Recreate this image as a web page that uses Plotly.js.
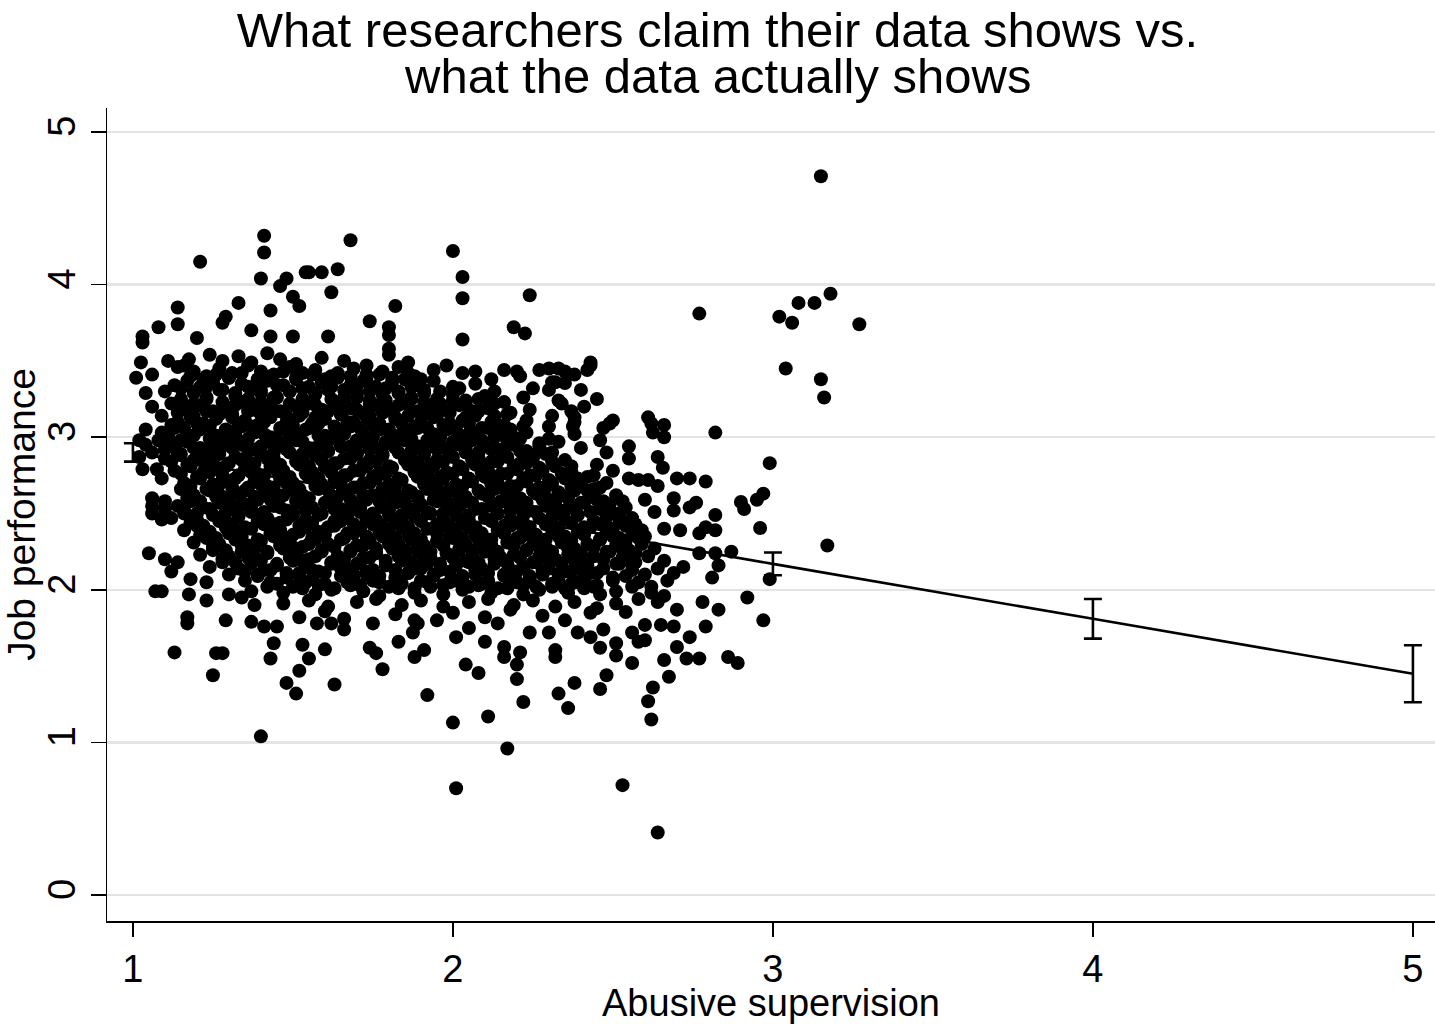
<!DOCTYPE html>
<html><head><meta charset="utf-8">
<script src="https://cdn.plot.ly/plotly-3.0.1.min.js"></script>
<style>html,body{margin:0;padding:0;background:#fff}#chart{width:1435px;height:1024px}</style>
</head><body><div id="chart"></div>
<script>
const titleLine1 = "What researchers claim their data shows vs.";
const titleLine2 = "what the data actually shows";
const xTitle = "Abusive supervision";
const yTitle = "Job performance";
const xTicks = [1, 2, 3, 4, 5];
const yTicks = [0, 1, 2, 3, 4, 5];

// fitted line and its confidence intervals
const fitX = [1, 2, 3, 4, 5];
const fitY = [2.90, 2.535, 2.17, 1.81, 1.45];
const fitCI = [0.06, 0.035, 0.075, 0.13, 0.187];

// observations [abusive supervision, job performance]
const coreUpper = [
[1.11,3.50],[1.16,3.47],[1.24,3.54],[1.28,3.50],[1.33,3.53],[1.37,3.49],[1.42,3.55],[1.46,3.51],[1.51,3.48],[1.59,3.52],[1.66,3.50],[1.73,3.47],[1.80,3.54],[1.86,3.49],[1.98,3.47],[2.07,3.43],[2.16,3.44],[2.30,3.45],[2.43,3.47],
[1.14,3.46],[1.19,3.43],[1.23,3.40],[1.27,3.45],[1.31,3.42],[1.36,3.47],[1.40,3.43],[1.44,3.41],[1.49,3.46],[1.53,3.42],[1.57,3.44],[1.62,3.40],[1.69,3.45],[1.73,3.41],[1.78,3.43],[1.83,3.46],[1.88,3.40],[1.94,3.44],[2.03,3.42],[2.12,3.38],[2.21,3.40],[2.31,3.36],[2.38,3.41],
[1.13,3.34],[1.17,3.37],[1.21,3.33],[1.25,3.36],[1.30,3.39],[1.34,3.35],[1.38,3.32],[1.42,3.37],[1.47,3.34],[1.51,3.38],[1.55,3.33],[1.59,3.36],[1.64,3.39],[1.68,3.34],[1.72,3.37],[1.76,3.33],[1.81,3.36],[1.85,3.38],[1.89,3.34],[1.94,3.37],[2.00,3.33],[2.07,3.35],[2.13,3.30],[2.25,3.32],[2.32,3.36],[2.40,3.31],
[1.10,3.30],[1.15,3.25],[1.19,3.29],[1.23,3.26],[1.27,3.31],[1.32,3.27],[1.36,3.24],[1.40,3.29],[1.44,3.26],[1.49,3.30],[1.53,3.25],[1.57,3.28],[1.61,3.31],[1.66,3.26],[1.70,3.29],[1.74,3.24],[1.78,3.28],[1.83,3.30],[1.87,3.26],[1.91,3.29],[1.95,3.25],[2.00,3.28],[2.04,3.24],[2.10,3.27],[2.16,3.23],[2.22,3.26],[2.34,3.22],[2.45,3.25],
[1.12,3.22],[1.17,3.18],[1.21,3.21],[1.25,3.17],[1.29,3.20],[1.34,3.23],[1.38,3.18],[1.42,3.21],[1.46,3.17],[1.51,3.20],[1.55,3.22],[1.59,3.18],[1.63,3.21],[1.68,3.19],[1.72,3.16],[1.76,3.21],[1.80,3.18],[1.85,3.22],[1.89,3.17],[1.93,3.20],[1.97,3.18],[2.02,3.21],[2.06,3.17],[2.11,3.19],[2.17,3.15],[2.24,3.18],[2.31,3.14],[2.37,3.17],
[1.09,3.14],[1.14,3.10],[1.18,3.13],[1.22,3.09],[1.26,3.12],[1.31,3.15],[1.35,3.11],[1.39,3.08],[1.43,3.13],[1.48,3.10],[1.52,3.14],[1.56,3.09],[1.60,3.12],[1.65,3.15],[1.69,3.10],[1.73,3.13],[1.77,3.09],[1.82,3.12],[1.86,3.14],[1.90,3.10],[1.94,3.13],[1.99,3.09],[2.03,3.11],[2.07,3.14],[2.12,3.10],[2.16,3.08],[2.23,3.11],[2.30,3.07],[2.38,3.10],[2.47,3.06]
];
const coreMiddle = [
[1.09,3.03],[1.13,3.06],[1.17,3.02],[1.21,3.05],[1.26,3.01],[1.30,3.04],[1.34,3.07],[1.38,3.03],[1.43,3.00],[1.47,3.05],[1.51,3.02],[1.55,3.06],[1.60,3.01],[1.64,3.04],[1.68,3.07],[1.72,3.02],[1.77,3.05],[1.81,3.01],[1.85,3.04],[1.89,3.06],[1.94,3.02],[1.98,3.05],[2.02,3.01],[2.06,3.03],[2.11,3.06],[2.15,3.02],[2.19,3.00],[2.23,3.03],[2.30,2.99],[2.38,3.02],
[1.04,2.95],[1.08,2.98],[1.12,2.94],[1.17,2.97],[1.21,2.93],[1.25,2.96],[1.29,2.99],[1.34,2.95],[1.38,2.92],[1.42,2.97],[1.46,2.94],[1.51,2.98],[1.55,2.93],[1.59,2.96],[1.63,2.99],[1.68,2.94],[1.72,2.97],[1.76,2.93],[1.80,2.96],[1.85,2.98],[1.89,2.94],[1.93,2.97],[1.97,2.93],[2.02,2.95],[2.06,2.98],[2.10,2.94],[2.14,2.92],[2.19,2.95],[2.23,2.91],[2.27,2.94],[2.33,2.97],[2.40,2.93],[2.48,2.90],[2.55,2.94],
[1.02,2.87],[1.06,2.90],[1.10,2.86],[1.15,2.89],[1.19,2.85],[1.23,2.88],[1.27,2.91],[1.32,2.87],[1.36,2.84],[1.40,2.89],[1.44,2.86],[1.49,2.90],[1.53,2.85],[1.57,2.88],[1.61,2.91],[1.66,2.86],[1.70,2.89],[1.74,2.85],[1.78,2.88],[1.83,2.90],[1.87,2.86],[1.91,2.89],[1.95,2.85],[2.00,2.87],[2.04,2.90],[2.08,2.86],[2.12,2.84],[2.17,2.87],[2.21,2.83],[2.25,2.86],[2.29,2.89],[2.35,2.85],[2.45,2.82],[2.55,2.86],
[1.13,2.78],[1.18,2.81],[1.22,2.77],[1.26,2.80],[1.30,2.83],[1.35,2.79],[1.39,2.76],[1.43,2.81],[1.47,2.78],[1.52,2.82],[1.56,2.77],[1.60,2.80],[1.64,2.83],[1.69,2.78],[1.73,2.81],[1.77,2.77],[1.81,2.80],[1.86,2.82],[1.90,2.78],[1.94,2.81],[1.98,2.77],[2.03,2.79],[2.07,2.82],[2.11,2.78],[2.15,2.76],[2.20,2.79],[2.24,2.75],[2.28,2.78],[2.32,2.81],[2.37,2.77],[2.42,2.74],[2.50,2.78],[2.58,2.72],
[1.16,2.70],[1.21,2.73],[1.25,2.69],[1.29,2.72],[1.33,2.75],[1.38,2.71],[1.42,2.68],[1.46,2.73],[1.50,2.70],[1.55,2.74],[1.59,2.69],[1.63,2.72],[1.67,2.75],[1.72,2.70],[1.76,2.73],[1.80,2.69],[1.84,2.72],[1.89,2.74],[1.93,2.70],[1.97,2.73],[2.01,2.69],[2.06,2.71],[2.10,2.74],[2.14,2.70],[2.18,2.68],[2.23,2.71],[2.27,2.67],[2.31,2.70],[2.35,2.73],[2.40,2.69],[2.44,2.66],[2.48,2.70],[2.55,2.73],[2.64,2.68],
[1.15,2.66],[1.19,2.62],[1.24,2.65],[1.28,2.61],[1.32,2.64],[1.36,2.67],[1.41,2.63],[1.45,2.60],[1.49,2.65],[1.53,2.62],[1.58,2.66],[1.62,2.61],[1.66,2.64],[1.70,2.67],[1.75,2.62],[1.79,2.65],[1.83,2.61],[1.87,2.64],[1.92,2.66],[1.96,2.62],[2.00,2.65],[2.04,2.61],[2.09,2.63],[2.13,2.66],[2.17,2.62],[2.21,2.60],[2.26,2.63],[2.30,2.59],[2.34,2.62],[2.38,2.65],[2.43,2.61],[2.47,2.58],[2.51,2.62],[2.60,2.59],[2.76,2.57]
];
const coreLower = [
[1.06,2.55],[1.10,2.53],[1.14,2.55],[1.18,2.58],[1.22,2.54],[1.27,2.57],[1.31,2.53],[1.35,2.56],[1.39,2.59],[1.44,2.55],[1.48,2.52],[1.52,2.57],[1.56,2.54],[1.61,2.58],[1.65,2.53],[1.69,2.56],[1.73,2.59],[1.78,2.54],[1.82,2.57],[1.86,2.53],[1.90,2.56],[1.95,2.58],[1.99,2.54],[2.03,2.57],[2.07,2.53],[2.12,2.55],[2.16,2.58],[2.20,2.54],[2.24,2.52],[2.29,2.55],[2.33,2.51],[2.37,2.54],[2.41,2.57],[2.46,2.53],[2.50,2.50],[2.54,2.54],[2.63,2.51],[2.82,2.49],
[1.06,2.50],[1.09,2.46],[1.12,2.47],[1.16,2.50],[1.20,2.46],[1.25,2.49],[1.29,2.45],[1.33,2.48],[1.37,2.51],[1.42,2.47],[1.46,2.44],[1.50,2.49],[1.54,2.46],[1.59,2.50],[1.63,2.45],[1.67,2.48],[1.71,2.51],[1.76,2.46],[1.80,2.49],[1.84,2.45],[1.88,2.48],[1.93,2.50],[1.97,2.46],[2.01,2.49],[2.05,2.45],[2.10,2.47],[2.14,2.50],[2.18,2.46],[2.22,2.44],[2.27,2.47],[2.31,2.43],[2.35,2.46],[2.39,2.49],[2.44,2.45],[2.48,2.42],[2.52,2.46],[2.57,2.43],[2.66,2.40],
[1.16,2.39],[1.20,2.42],[1.24,2.38],[1.29,2.41],[1.33,2.37],[1.37,2.40],[1.41,2.43],[1.46,2.39],[1.50,2.36],[1.54,2.41],[1.58,2.38],[1.63,2.42],[1.67,2.37],[1.71,2.40],[1.75,2.43],[1.80,2.38],[1.84,2.41],[1.88,2.37],[1.92,2.40],[1.97,2.42],[2.01,2.38],[2.05,2.41],[2.09,2.37],[2.14,2.39],[2.18,2.42],[2.22,2.38],[2.26,2.36],[2.31,2.39],[2.35,2.35],[2.39,2.38],[2.43,2.41],[2.48,2.37],[2.52,2.34],[2.56,2.38],[2.60,2.35],
[1.19,2.31],[1.23,2.34],[1.27,2.30],[1.32,2.33],[1.36,2.29],[1.40,2.32],[1.44,2.35],[1.49,2.31],[1.53,2.28],[1.57,2.33],[1.61,2.30],[1.66,2.34],[1.70,2.29],[1.74,2.32],[1.78,2.35],[1.83,2.30],[1.87,2.33],[1.91,2.29],[1.95,2.32],[2.00,2.34],[2.04,2.30],[2.08,2.33],[2.12,2.29],[2.17,2.31],[2.21,2.34],[2.25,2.30],[2.29,2.28],[2.34,2.31],[2.38,2.27],[2.42,2.30],[2.46,2.33],[2.51,2.29],[2.55,2.26],[2.59,2.30],[2.63,2.27],
[1.21,2.23],[1.25,2.26],[1.30,2.22],[1.34,2.25],[1.38,2.21],[1.42,2.24],[1.47,2.27],[1.51,2.23],[1.55,2.20],[1.59,2.25],[1.64,2.22],[1.68,2.26],[1.72,2.21],[1.76,2.24],[1.81,2.27],[1.85,2.22],[1.89,2.25],[1.93,2.21],[1.98,2.24],[2.02,2.26],[2.06,2.22],[2.10,2.25],[2.15,2.21],[2.19,2.23],[2.23,2.26],[2.27,2.22],[2.32,2.20],[2.36,2.23],[2.40,2.19],[2.44,2.22],[2.49,2.25],[2.53,2.21],[2.57,2.18],[2.61,2.22],[2.66,2.19],[2.77,2.24],
[1.24,2.15],[1.28,2.18],[1.33,2.14],[1.37,2.17],[1.41,2.13],[1.45,2.16],[1.50,2.19],[1.54,2.15],[1.58,2.12],[1.62,2.17],[1.67,2.14],[1.71,2.18],[1.75,2.13],[1.79,2.16],[1.84,2.19],[1.88,2.14],[1.92,2.17],[1.96,2.13],[2.01,2.16],[2.05,2.18],[2.09,2.14],[2.13,2.17],[2.18,2.13],[2.22,2.15],[2.26,2.18],[2.30,2.14],[2.35,2.12],[2.39,2.15],[2.43,2.11],[2.47,2.14],[2.52,2.17],[2.56,2.13],[2.60,2.10],[2.64,2.14],[2.69,2.11],
[1.18,2.07],[1.23,2.05],[1.30,2.10],[1.35,2.06],[1.39,2.09],[1.43,2.05],[1.48,2.08],[1.52,2.11],[1.56,2.07],[1.60,2.04],[1.65,2.09],[1.69,2.06],[1.73,2.10],[1.77,2.05],[1.82,2.08],[1.86,2.11],[1.90,2.06],[1.94,2.09],[1.99,2.05],[2.03,2.08],[2.07,2.10],[2.11,2.06],[2.16,2.09],[2.20,2.05],[2.24,2.07],[2.28,2.10],[2.33,2.06],[2.37,2.04],[2.41,2.07],[2.45,2.03],[2.50,2.06],[2.54,2.09],[2.58,2.05],[2.62,2.02],[2.67,2.06],
[1.37,1.99],[1.42,2.02],[1.47,1.98],[1.53,2.01],[1.57,1.97],[1.62,2.00],[1.68,2.03],[1.72,1.99],[1.77,1.96],[1.83,2.01],[1.88,1.98],[1.93,2.02],[1.97,1.97],[2.03,2.00],[2.08,2.03],[2.12,1.98],[2.17,2.01],[2.22,1.97],[2.27,2.00],[2.31,2.02],[2.36,1.98],[2.41,2.01],[2.46,1.97],[2.51,1.99],[2.56,2.02],[2.62,1.98],[2.66,1.96],
[1.47,1.91],[1.55,1.93],[1.61,1.89],[1.70,1.92],[1.76,1.94],[1.84,1.90],[1.90,1.93],[1.97,1.89],[2.05,1.92],[2.11,1.94],[2.19,1.90],[2.25,1.93],[2.32,1.89],[2.38,1.92],[2.45,1.88],[2.51,1.91],[2.58,1.94],
[1.52,1.82],[1.60,1.86],[1.66,1.81],[1.82,1.84],[1.88,1.80],[2.00,1.85],[2.10,1.82],[2.18,1.87],[2.28,1.83],[2.35,1.80],[2.43,1.85],
[1.05,2.24],[1.10,2.20],[1.14,2.18],[1.12,2.12],[1.07,1.99],[1.09,1.99],[1.175,1.97],[1.23,1.93],[1.17,1.82],[1.02,2.98],[1.03,2.79],[1.075,2.79],[1.09,2.73],[1.06,2.60],[1.10,2.58],[1.04,3.05],[1.06,3.20],[1.34,1.95],[1.38,1.90],[1.30,1.97]
];
const coreFill = [
[1.18,3.40],[1.22,3.38],[1.26,3.41],[1.30,3.39],[1.34,3.42],[1.39,3.38],[1.43,3.40],[1.47,3.43],[1.51,3.39],[1.56,3.41],[1.60,3.38],[1.64,3.42],[1.68,3.40],[1.73,3.37],[1.77,3.41],[1.81,3.39],[1.86,3.42],[1.90,3.38],
[1.15,3.32],[1.19,3.30],[1.23,3.33],[1.28,3.31],[1.32,3.29],[1.36,3.33],[1.40,3.31],[1.45,3.34],[1.49,3.30],[1.53,3.32],[1.57,3.29],[1.62,3.33],[1.66,3.31],[1.70,3.34],[1.74,3.30],[1.79,3.32],[1.83,3.29],[1.87,3.33],[1.91,3.31],[1.96,3.30],[2.02,3.32],
[1.15,3.24],[1.19,3.22],[1.23,3.25],[1.28,3.23],[1.32,3.21],[1.36,3.25],[1.40,3.23],[1.45,3.26],[1.49,3.22],[1.53,3.24],[1.57,3.21],[1.62,3.25],[1.66,3.23],[1.70,3.26],[1.74,3.22],[1.79,3.24],[1.83,3.21],[1.87,3.25],[1.91,3.23],[1.96,3.22],[2.00,3.24],[2.04,3.21],[2.08,3.25],[2.13,3.22],
[1.14,3.16],[1.19,3.14],[1.23,3.17],[1.27,3.15],[1.31,3.13],[1.36,3.17],[1.40,3.15],[1.44,3.18],[1.48,3.14],[1.53,3.16],[1.57,3.13],[1.61,3.17],[1.65,3.15],[1.70,3.18],[1.74,3.14],[1.78,3.16],[1.82,3.13],[1.87,3.17],[1.91,3.15],[1.95,3.14],[1.99,3.16],[2.04,3.13],[2.08,3.17],[2.13,3.14],[2.18,3.16],
[1.12,3.08],[1.16,3.06],[1.20,3.09],[1.24,3.07],[1.29,3.05],[1.33,3.09],[1.37,3.07],[1.41,3.10],[1.46,3.06],[1.50,3.08],[1.54,3.05],[1.58,3.09],[1.63,3.07],[1.67,3.10],[1.71,3.06],[1.75,3.08],[1.80,3.05],[1.84,3.09],[1.88,3.07],[1.92,3.06],[1.97,3.08],[2.01,3.05],[2.05,3.09],[2.09,3.06],[2.14,3.08],[2.18,3.05],[2.22,3.07],
[1.11,3.00],[1.15,2.98],[1.19,3.01],[1.24,2.99],[1.28,2.97],[1.32,3.01],[1.36,2.99],[1.41,3.02],[1.45,2.98],[1.49,3.00],[1.53,2.97],[1.58,3.01],[1.62,2.99],[1.66,3.02],[1.70,2.98],[1.75,3.00],[1.79,2.97],[1.83,3.01],[1.87,2.99],[1.92,2.98],[1.96,3.00],[2.00,2.97],[2.04,3.01],[2.09,2.98],[2.13,3.00],[2.17,2.97],[2.21,2.99],[2.27,2.96],
[1.10,2.92],[1.14,2.90],[1.19,2.93],[1.23,2.91],[1.27,2.89],[1.31,2.93],[1.36,2.91],[1.40,2.94],[1.44,2.90],[1.48,2.92],[1.53,2.89],[1.57,2.93],[1.61,2.91],[1.65,2.94],[1.70,2.90],[1.74,2.92],[1.78,2.89],[1.82,2.93],[1.87,2.91],[1.91,2.90],[1.95,2.92],[1.99,2.89],[2.04,2.93],[2.08,2.90],[2.12,2.92],[2.16,2.89],[2.21,2.91],[2.25,2.88],[2.31,2.90],
[1.12,2.84],[1.17,2.82],[1.21,2.85],[1.25,2.83],[1.29,2.81],[1.34,2.85],[1.38,2.83],[1.42,2.86],[1.46,2.82],[1.51,2.84],[1.55,2.81],[1.59,2.85],[1.63,2.83],[1.68,2.86],[1.72,2.82],[1.76,2.84],[1.80,2.81],[1.85,2.85],[1.89,2.83],[1.93,2.82],[1.97,2.84],[2.02,2.81],[2.06,2.85],[2.10,2.82],[2.14,2.84],[2.19,2.81],[2.23,2.83],[2.27,2.80],[2.31,2.84],[2.37,2.81],
[1.15,2.76],[1.20,2.74],[1.24,2.77],[1.28,2.75],[1.32,2.73],[1.37,2.77],[1.41,2.75],[1.45,2.78],[1.49,2.74],[1.54,2.76],[1.58,2.73],[1.62,2.77],[1.66,2.75],[1.71,2.78],[1.75,2.74],[1.79,2.76],[1.83,2.73],[1.88,2.77],[1.92,2.75],[1.96,2.74],[2.00,2.76],[2.05,2.73],[2.09,2.77],[2.13,2.74],[2.17,2.76],[2.22,2.73],[2.26,2.75],[2.30,2.72],[2.34,2.76],[2.39,2.73],[2.44,2.75],
[1.18,2.68],[1.23,2.66],[1.27,2.69],[1.31,2.67],[1.35,2.65],[1.40,2.69],[1.44,2.67],[1.48,2.70],[1.52,2.66],[1.57,2.68],[1.61,2.65],[1.65,2.69],[1.69,2.67],[1.74,2.70],[1.78,2.66],[1.82,2.68],[1.86,2.65],[1.91,2.69],[1.95,2.67],[1.99,2.66],[2.03,2.68],[2.08,2.65],[2.12,2.69],[2.16,2.66],[2.20,2.68],[2.25,2.65],[2.29,2.67],[2.33,2.64],[2.37,2.68],[2.42,2.65],[2.46,2.67],
[1.17,2.60],[1.21,2.58],[1.26,2.61],[1.30,2.59],[1.34,2.57],[1.38,2.61],[1.43,2.59],[1.47,2.62],[1.51,2.58],[1.55,2.60],[1.60,2.57],[1.64,2.61],[1.68,2.59],[1.72,2.62],[1.77,2.58],[1.81,2.60],[1.85,2.57],[1.89,2.61],[1.94,2.59],[1.98,2.58],[2.02,2.60],[2.06,2.57],[2.11,2.61],[2.15,2.58],[2.19,2.60],[2.23,2.57],[2.28,2.59],[2.32,2.56],[2.36,2.60],[2.40,2.57],[2.45,2.59],[2.49,2.56],[2.53,2.58],
[1.16,2.52],[1.20,2.50],[1.24,2.53],[1.29,2.51],[1.33,2.49],[1.37,2.53],[1.41,2.51],[1.46,2.54],[1.50,2.50],[1.54,2.52],[1.58,2.49],[1.63,2.53],[1.67,2.51],[1.71,2.54],[1.75,2.50],[1.80,2.52],[1.84,2.49],[1.88,2.53],[1.92,2.51],[1.97,2.50],[2.01,2.52],[2.05,2.49],[2.09,2.53],[2.14,2.50],[2.18,2.52],[2.22,2.49],[2.26,2.51],[2.31,2.48],[2.35,2.52],[2.39,2.49],[2.43,2.51],[2.48,2.48],[2.52,2.50],[2.56,2.47],
[1.18,2.44],[1.22,2.42],[1.27,2.45],[1.31,2.43],[1.35,2.41],[1.39,2.45],[1.44,2.43],[1.48,2.46],[1.52,2.42],[1.56,2.44],[1.61,2.41],[1.65,2.45],[1.69,2.43],[1.73,2.46],[1.78,2.42],[1.82,2.44],[1.86,2.41],[1.90,2.45],[1.95,2.43],[1.99,2.42],[2.03,2.44],[2.07,2.41],[2.12,2.45],[2.16,2.42],[2.20,2.44],[2.24,2.41],[2.29,2.43],[2.33,2.40],[2.37,2.44],[2.41,2.41],[2.46,2.43],[2.50,2.40],[2.54,2.42],[2.59,2.39],
[1.21,2.36],[1.26,2.34],[1.30,2.37],[1.34,2.35],[1.39,2.33],[1.43,2.37],[1.47,2.35],[1.52,2.38],[1.56,2.34],[1.60,2.36],[1.65,2.33],[1.69,2.37],[1.73,2.35],[1.77,2.38],[1.82,2.34],[1.86,2.36],[1.90,2.33],[1.95,2.37],[1.99,2.35],[2.03,2.34],[2.07,2.36],[2.12,2.33],[2.16,2.37],[2.20,2.34],[2.24,2.36],[2.29,2.33],[2.33,2.35],[2.37,2.32],[2.41,2.36],[2.46,2.33],[2.50,2.35],[2.54,2.32],[2.58,2.34],
[1.25,2.28],[1.29,2.26],[1.34,2.29],[1.38,2.27],[1.42,2.25],[1.46,2.29],[1.51,2.27],[1.55,2.30],[1.59,2.26],[1.63,2.28],[1.68,2.25],[1.72,2.29],[1.76,2.27],[1.80,2.30],[1.85,2.26],[1.89,2.28],[1.93,2.25],[1.97,2.29],[2.02,2.27],[2.06,2.26],[2.10,2.28],[2.14,2.25],[2.19,2.29],[2.23,2.26],[2.27,2.28],[2.31,2.25],[2.36,2.27],[2.40,2.24],[2.44,2.28],[2.48,2.25],[2.53,2.27],[2.57,2.24],
[1.28,2.20],[1.32,2.18],[1.36,2.21],[1.40,2.19],[1.45,2.17],[1.49,2.21],[1.53,2.19],[1.57,2.22],[1.62,2.18],[1.66,2.20],[1.70,2.17],[1.74,2.21],[1.79,2.19],[1.83,2.22],[1.87,2.18],[1.91,2.20],[1.96,2.17],[2.00,2.21],[2.04,2.19],[2.08,2.18],[2.13,2.20],[2.17,2.17],[2.21,2.21],[2.25,2.18],[2.30,2.20],[2.34,2.17],[2.38,2.19],[2.42,2.16],[2.47,2.20],[2.51,2.17],[2.55,2.19],
[1.35,2.12],[1.39,2.10],[1.43,2.13],[1.48,2.11],[1.52,2.09],[1.56,2.13],[1.60,2.11],[1.65,2.14],[1.69,2.10],[1.73,2.12],[1.77,2.09],[1.82,2.13],[1.86,2.11],[1.90,2.14],[1.94,2.10],[1.99,2.12],[2.03,2.09],[2.07,2.13],[2.11,2.11],[2.16,2.10],[2.20,2.12],[2.24,2.09],[2.28,2.13],[2.33,2.10],[2.37,2.12],[2.41,2.09],[2.45,2.11],[2.50,2.08],
[1.45,2.04],[1.50,2.02],[1.54,2.05],[1.58,2.03],[1.63,2.01],[1.67,2.05],[1.71,2.03],[1.75,2.06],[1.80,2.02],[1.84,2.04],[1.88,2.01],[1.92,2.05],[1.97,2.03],[2.01,2.06],[2.05,2.02],[2.09,2.04],[2.14,2.01],[2.18,2.05],[2.22,2.03],[2.26,2.02],[2.31,2.04],[2.35,2.01],[2.39,2.05],[2.44,2.02]
];
const outliersHigh = [
[3.15,4.71],[1.41,4.32],[1.41,4.21],[1.21,4.15],[1.40,4.04],[1.46,3.99],[1.48,4.04],[1.54,4.08],[1.33,3.88],[1.43,3.83],[1.50,3.92],[1.52,3.86],[1.14,3.85],[1.14,3.74],[1.08,3.72],[1.29,3.79],[1.28,3.75],[1.37,3.70],[1.43,3.66],[1.50,3.66],[1.20,3.65],[1.03,3.66],[1.03,3.62],[1.175,3.51],[1.025,3.49],[1.01,3.39],[1.06,3.41],[1.04,3.29],
[1.68,4.29],[2.00,4.22],[2.03,4.05],[2.03,3.91],[1.59,4.08],[1.55,4.08],[1.64,4.10],[1.62,3.95],[1.82,3.86],[1.74,3.76],[1.80,3.72],[1.80,3.67],[1.80,3.58],[1.61,3.66],[2.03,3.64],[2.19,3.72],[2.225,3.68],[2.24,3.93],[2.77,3.81],
[3.02,3.79],[3.06,3.75],[3.08,3.88],[3.13,3.88],[3.18,3.94],[3.27,3.74],[3.04,3.45],[3.15,3.38],[3.16,3.26],
[2.20,3.43],[2.27,3.44],[2.33,3.45],[2.35,3.43],[2.43,3.49],[2.42,3.44],[2.30,3.31],[2.35,3.355],[2.33,3.24],[2.41,3.20],[2.38,3.13],[2.50,3.11],[2.61,3.13]
];
const outliersRight = [
[2.625,3.03],[2.66,3.08],[2.62,3.09],[2.49,3.09],[2.46,2.98],[2.375,3.07],[2.66,3.00],[2.64,2.87],[2.656,2.80],[2.70,2.73],[2.74,2.73],[2.61,2.72],[2.69,2.60],[2.69,2.52],[2.74,2.54],[2.71,2.39],[2.77,2.37],[2.72,2.15],[2.54,1.855],[2.64,1.92],[2.70,1.87],
[2.82,3.03],[2.99,2.83],[2.79,2.71],[2.97,2.63],[2.95,2.59],[2.90,2.575],[2.91,2.53],[2.96,2.405],[3.17,2.29],[2.79,2.41],[2.82,2.39],[2.87,2.25],[2.82,2.24],[2.83,2.16],[2.81,2.08],[2.99,2.07],[2.92,1.95],[2.78,1.92],[2.83,1.87],[2.97,1.80]
];
const outliersLow = [
[1.13,1.59],[1.26,1.585],[1.28,1.585],[1.25,1.44],[1.40,1.04],[1.17,1.78],[1.29,1.80],[1.37,1.79],[1.41,1.76],[1.45,1.76],[1.44,1.65],[1.43,1.55],[1.53,1.64],[1.55,1.55],[1.52,1.47],[1.48,1.39],[1.51,1.32],[1.60,1.61],[1.63,1.38],[1.575,1.78],[1.62,1.78],[1.66,1.74],[1.75,1.78],[1.74,1.62],[1.76,1.585],[1.78,1.48],[1.83,1.66],[1.875,1.72],[1.89,1.78],[1.88,1.56],[1.91,1.605],[1.92,1.31],[1.95,1.80],
[2.00,1.13],[2.11,1.17],[2.17,0.96],[2.01,0.70],[2.01,1.69],[2.05,1.75],[2.10,1.66],[2.04,1.51],[2.08,1.455],[2.14,1.78],[2.16,1.625],[2.16,1.56],[2.53,0.72],[2.64,0.41],[2.22,1.265],[2.36,1.225],[2.33,1.32],[2.38,1.39],[2.46,1.35],[2.48,1.44],[2.56,1.52],[2.625,1.36],[2.61,1.27],[2.62,1.15],[2.66,1.54],[2.675,1.43],
[2.20,1.415],[2.20,1.51],[2.21,1.59],[2.32,1.605],[2.32,1.56],[2.24,1.72],[2.30,1.72],[2.39,1.72],[2.43,1.69],[2.46,1.62],[2.51,1.65],[2.51,1.57],[2.47,1.74],[2.56,1.72],[2.58,1.66],[2.60,1.67],[2.60,1.77],[2.65,1.77],[2.69,1.76],[2.70,1.625],[2.74,1.69],[2.73,1.55],[2.77,1.55],[2.79,1.76],[2.86,1.56],[2.89,1.52]
];

const allPoints = [].concat(coreUpper, coreMiddle, coreLower, coreFill, outliersHigh, outliersRight, outliersLow);
const FONT = '"Liberation Sans", Arial, Helvetica, sans-serif';

const scatter = {
  type: 'scatter', mode: 'markers',
  x: allPoints.map(p => p[0]), y: allPoints.map(p => p[1]),
  marker: {color: '#000', size: 14, line: {width: 0}},
  hoverinfo: 'x+y'
};
const fit = {
  type: 'scatter', mode: 'lines',
  x: fitX, y: fitY,
  line: {color: '#000', width: 2.6},
  error_y: {type: 'data', array: fitCI, visible: true, color: '#000', thickness: 2.6, width: 9}
};

const layout = {
  width: 1435, height: 1024,
  margin: {l: 107, r: 0, t: 108, b: 103},
  paper_bgcolor: '#fff', plot_bgcolor: '#fff',
  showlegend: false,
  font: {family: FONT, color: '#000'},
  title: {text: titleLine1, font: {size: 49, family: FONT, color: '#000'},
          x: 0.5, xref: 'container', xanchor: 'center', y: 1 - 30/1024, yref: 'container', yanchor: 'middle'},
  annotations: [{text: titleLine2, xref: 'paper', yref: 'paper', x: (717.5-107)/1328, y: (921-76)/813,
                 xanchor: 'center', yanchor: 'middle', showarrow: false, font: {size: 49, family: FONT, color: '#000'}}],
  xaxis: {range: [0.919, 5.069], tickmode: 'array', tickvals: xTicks, ticktext: xTicks.map(String),
          ticks: 'outside', ticklen: 14, tickwidth: 1.5, tickcolor: '#000',
          showline: true, linecolor: '#000', linewidth: 1.5, showgrid: false, zeroline: false,
          tickfont: {size: 38, family: FONT}, fixedrange: true,
          title: {text: xTitle, font: {size: 38, family: FONT}, standoff: 2}},
  yaxis: {range: [-0.17, 5.157], tickmode: 'array', tickvals: yTicks, ticktext: yTicks.map(String),
          ticks: 'outside', ticklen: 15, tickwidth: 1.5, tickcolor: '#000',
          showline: true, linecolor: '#000', linewidth: 1.5,
          showgrid: true, gridcolor: '#e4e4e4', gridwidth: 2.5, zeroline: false,
          tickangle: -90, tickfont: {size: 38, family: FONT}, fixedrange: true,
          title: {text: yTitle, font: {size: 39, family: FONT}, standoff: 4}}
};

Plotly.newPlot('chart', [scatter, fit], layout, {displayModeBar: false, staticPlot: true});
</script>
</body></html>
